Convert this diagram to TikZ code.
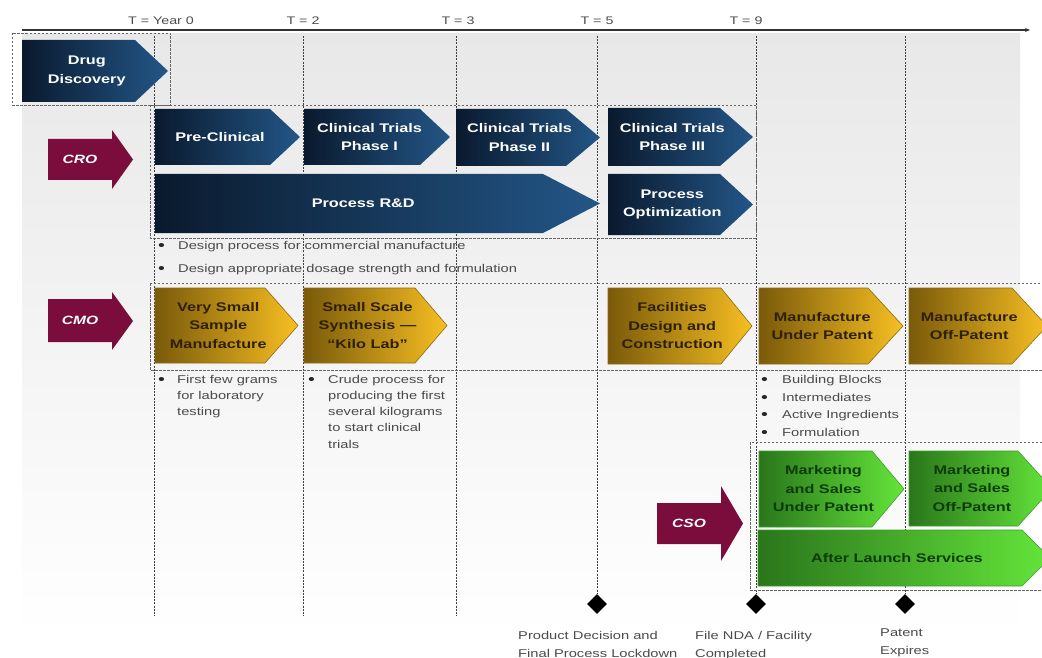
\documentclass[tikz,border=0pt]{standalone}
\usepackage{fontspec}
\setmainfont[FakeStretch=1.3]{Liberation Sans}
\usetikzlibrary{shapes.geometric,arrows.meta}
\definecolor{navyL}{HTML}{0A1A2E}
\definecolor{navyR}{HTML}{235687}
\definecolor{goldL}{HTML}{7A5A0A}
\definecolor{goldR}{HTML}{F7BF22}
\definecolor{goldT}{HTML}{2E2004}
\definecolor{goldE}{HTML}{8E6A10}
\definecolor{greenL}{HTML}{2A761B}
\definecolor{greenR}{HTML}{64E53A}
\definecolor{greenT}{HTML}{0C3C06}
\definecolor{greenE}{HTML}{3E9E2A}
\definecolor{maroon}{HTML}{7A0D3C}
\definecolor{txtgray}{HTML}{4A4A4A}
\newcommand\chev[8]{%
  \path[#2box] (#3,#4) -- (#5,#4) -- (#6,{(#4+#7)/2}) -- (#5,#7) -- (#3,#7) -- cycle;
  \node[#2text] (#1) at ({(#3+(#5+#6)/2)/2},{(#4+#7)/2}) {#8};}
\newcommand\labarrow[9]{%
  \path[tagbox] (#2,#5) -- (#3,#5) -- (#3,#7) -- (#4,{(#7+#8)/2}) -- (#3,#8) -- (#3,#6) -- (#2,#6) -- cycle;
  \node[tagtext] (#1) at ({(#2+#3)/2},{(#5+#6)/2}) {#9};}
\begin{document}
\begin{tikzpicture}[x=1pt,y=-1pt,
  vline/.style={draw=black!75, line width=0.8pt, dash pattern=on 2pt off 1.2pt},
  grpbox/.style={draw=black!60, line width=0.7pt, dash pattern=on 2.5pt off 1.5pt},
  bluebox/.style={left color=navyL, right color=navyR},
  goldbox/.style={left color=goldL, right color=goldR, draw=goldE, line width=0.6pt},
  greenbox/.style={left color=greenL, right color=greenR, draw=greenE, line width=0.6pt},
  boxfont/.style={font=\fontsize{12.5}{18.5}\selectfont\bfseries, align=center, inner sep=0pt},
  bluetext/.style={boxfont, text=white},
  goldtext/.style={boxfont, text=goldT},
  greentext/.style={boxfont, text=greenT},
  tagbox/.style={fill=maroon},
  tagtext/.style={font=\fontsize{12}{14}\selectfont\bfseries\itshape, text=white, inner sep=0pt},
  bul/.style={font=\fontsize{11.3}{13}\selectfont, text=txtgray, anchor=base west, inner sep=0pt},
  dot/.style={font=\fontsize{15}{15}\selectfont, text=black!85, anchor=base west, inner sep=0pt},
  tlab/.style={font=\fontsize{11}{13}\selectfont, text=black!70, inner sep=0pt},
  ms/.style={diamond, fill=black, inner sep=0pt, minimum width=20pt, minimum height=20pt}
]
\useasboundingbox (0,0) rectangle (1042,658);
% background panel
\fill[top color=black!9, bottom color=white] (22,34) rectangle (1020,636);
% timeline
\draw[black!80, line width=1.1pt, -{Stealth[length=5pt,width=4pt]}] (22,30) -- (1030,30);
\node[tlab] (t0) at (161,21) {T = Year 0};
\node[tlab] (t2) at (303,21) {T = 2};
\node[tlab] (t3) at (458,21) {T = 3};
\node[tlab] (t5) at (597,21) {T = 5};
\node[tlab] (t9) at (746,21) {T = 9};
% milestones
\node[ms] (m1) at (597,604) {};
\node[ms] (m2) at (756,604) {};
\node[ms] (m3) at (905,604) {};
\coordinate (v1a) at (154,36); \coordinate (v1b) at (154,616);
\coordinate (v2a) at (303,36); \coordinate (v2b) at (303,616);
\coordinate (v3a) at (456,36); \coordinate (v3b) at (456,616);
\coordinate (v4a) at (597,36);
\coordinate (v5a) at (756,36);
\coordinate (v6a) at (905,36);
\draw[vline] (v1a) -- (v1b);
\draw[vline] (v2a) -- (v2b);
\draw[vline] (v3a) -- (v3b);
\draw[vline] (v4a) -- (m1.north);
\draw[vline] (v5a) -- (m2.north);
\draw[vline] (v6a) -- (m3.north);
% group boxes
\draw[grpbox] (12,33) rectangle (170,105);
\draw[grpbox] (150,105) rectangle (756,238);
\draw[grpbox] (150,283) rectangle (1046,370);
\draw[grpbox] (750,442) rectangle (1046,590);
% chevrons: name, kind, x1, y1, tipstart, tip, y2, text
\chev{dd}{blue}{22}{40}{135}{168}{102}{Drug\\Discovery}
\chev{pc}{blue}{155}{109}{270}{300}{165}{Pre-Clinical}
\chev{p1}{blue}{304}{109}{420}{450}{165}{Clinical Trials\\Phase I}
\chev{p2}{blue}{456}{109}{566}{600}{166}{Clinical Trials\\Phase II}
\chev{p3}{blue}{608}{108}{720}{753}{166}{Clinical Trials\\Phase III}
\chev{rd}{blue}{155}{174}{543}{600}{233}{Process R\&D}
\chev{po}{blue}{608}{174}{720}{753}{235}{Process\\Optimization}
\chev{vs}{gold}{155}{288}{265}{298}{363}{Very Small\\Sample\\Manufacture}
\chev{ss}{gold}{304}{288}{415}{447}{363}{Small Scale\\Synthesis —\\“Kilo Lab”}
\chev{fd}{gold}{608}{288}{721}{752}{364}{Facilities\\Design and\\Construction}
\chev{mu}{gold}{759}{288}{868}{903}{364}{Manufacture\\Under Patent}
\chev{mo}{gold}{909}{288}{1012}{1047}{364}{Manufacture\\Off-Patent}
\chev{su}{green}{759}{451}{872}{904}{527}{Marketing\\and Sales\\Under Patent}
\chev{so}{green}{909}{451}{1018}{1052}{526}{Marketing\\and Sales\\Off-Patent}
\chev{al}{green}{758}{530}{1022}{1050}{586}{After Launch Services}
% role tags: name, x1, headbase, tip, body y1, body y2, head y1, head y2, text
\labarrow{cro}{48}{112}{133}{139}{180}{130}{189}{CRO}
\labarrow{cmo}{48}{112}{133}{299}{342}{292}{350}{CMO}
\labarrow{cso}{657}{721}{743}{503}{544}{486}{561}{CSO}
% CRO bullets (baselines)
\node[dot] (cb1) at (158,250) {•};
\node[bul] (ct1) at (178,249) {Design process for commercial manufacture};
\node[dot] (cb2) at (158,273) {•};
\node[bul] (ct2) at (178,272) {Design appropriate dosage strength and formulation};
% CMO bullets
\node[dot] (ab) at (158,384) {•};
\node[bul] (a1) at (177,383) {First few grams};
\node[bul] (a2) at (177,399) {for laboratory};
\node[bul] (a3) at (177,415) {testing};
\node[dot] (bb) at (308,384) {•};
\node[bul] (b1) at (328,383) {Crude process for};
\node[bul] (b2) at (328,399) {producing the first};
\node[bul] (b3) at (328,415) {several kilograms};
\node[bul] (b4) at (328,431) {to start clinical};
\node[bul] (b5) at (328,448) {trials};
\node[dot] (cb) at (761,384) {•};
\node[bul] (c1) at (782,383) {Building Blocks};
\node[dot] (cc) at (761,402) {•};
\node[bul] (c2) at (782,401) {Intermediates};
\node[dot] (cd) at (761,419) {•};
\node[bul] (c3) at (782,418) {Active Ingredients};
\node[dot] (ce) at (761,437) {•};
\node[bul] (c4) at (782,436) {Formulation};
% milestone texts
\node[bul] (l1a) at (518,639) {Product Decision and};
\node[bul] (l1b) at (518,657) {Final Process Lockdown};
\node[bul] (l2a) at (695,639) {File NDA / Facility};
\node[bul] (l2b) at (695,657) {Completed};
\node[bul] (l3a) at (880,636) {Patent};
\node[bul] (l3b) at (880,654) {Expires};
\end{tikzpicture}
\end{document}
